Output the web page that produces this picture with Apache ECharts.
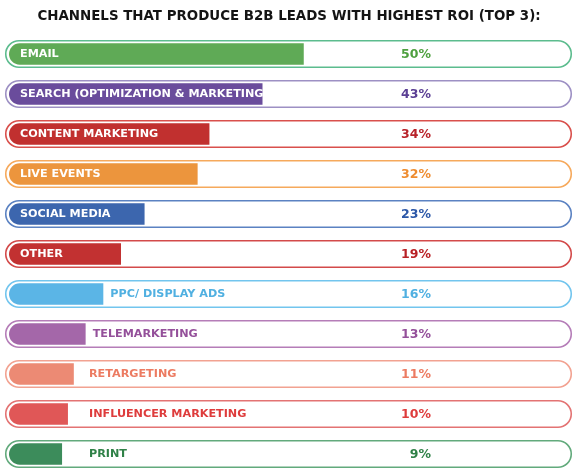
<!DOCTYPE html>
<html><head><meta charset="utf-8">
<script src="https://cdn.jsdelivr.net/npm/echarts@6/dist/echarts.min.js"></script>
<style>html,body{margin:0;padding:0;background:#fff}#c{width:578px;height:476px}</style>
</head><body><div id="c"></div>
<script>
const titleText = 'CHANNELS THAT PRODUCE B2B LEADS WITH HIGHEST ROI (TOP 3):';
const categories = ['EMAIL','SEARCH (OPTIMIZATION & MARKETING)','CONTENT MARKETING','LIVE EVENTS','SOCIAL MEDIA','OTHER','PPC/ DISPLAY ADS','TELEMARKETING','RETARGETING','INFLUENCER MARKETING','PRINT'];
const values = [50,43,34,32,23,19,16,13,11,10,9];
const fillColors = ['#5faa56','#6a4c9c','#c1302f','#ec953d','#3c66ae','#c23131','#5bb5e6','#a467a9','#ec8a74','#e05757','#3c8c5b'];
const borderColors = ['#5cbc8e','#9d90c4','#d9504c','#f6a95c','#5b82c2','#d34a4a','#72c5ee','#b57db8','#f2a291','#e37373','#62aa7c'];
const textColors = ['#4ea03f','#5b3f94','#b8232a','#ee8c30','#2c58a8','#b82126','#50b0e1','#94509a','#ec7b62','#de3c3c','#2f8147'];
const insideLabel = [true,true,true,true,true,true,false,false,false,false,false];

const FONT = '"DejaVu Sans", sans-serif';
const chart = echarts.init(document.getElementById('c'), null, {renderer:'canvas'});
chart.setOption({
  animation:false,
  title:{text:titleText,left:'center',top:5,textStyle:{fontFamily:FONT,fontWeight:'bold',fontSize:13.4,color:'#141414'}},
  grid:{left:9,right:9,top:34,height:440},
  xAxis:{type:'value',min:0,max:95,show:false},
  yAxis:{type:'category',data:categories,inverse:true,show:false},
  series:[{
    type:'custom',
    clip:false,
    data: values.map((v,i)=>[v,i]),
    encode:{x:0,y:1},
    renderItem:function(params, api){
      const i = api.value(1);
      const cs = params.coordSys;
      const p0 = api.coord([0,i]);
      const p1 = api.coord([api.value(0),i]);
      const yc = p0[1];
      const pill = {type:'rect',shape:{x:cs.x-3.25,y:yc-13.25,width:cs.width+5.5,height:26.5,r:13.25},
        style:{fill:'#fff',stroke:borderColors[i],lineWidth:1.6}};
      const bar = {type:'rect',shape:{x:p0[0],y:yc-10.75,width:p1[0]-p0[0],height:21.5,r:[10.75,0,0,10.75]},
        style:{fill:fillColors[i]}};
      const lx = insideLabel[i] ? p0[0]+11 : Math.max(p1[0]+7, p0[0]+80);
      const label = {type:'text',style:{text:categories[i],x:lx,y:yc+0.5,fill:insideLabel[i]?'#fff':textColors[i],
        font:'bold 11.2px '+FONT,align:'left',verticalAlign:'middle'}};
      const pct = {type:'text',style:{text:values[i]+'%',x:431,y:yc+1,fill:textColors[i],
        font:'bold 12.5px '+FONT,align:'right',verticalAlign:'middle'}};
      return {type:'group',children:[pill,bar,label,pct]};
    }
  }]
});
</script></body></html>
